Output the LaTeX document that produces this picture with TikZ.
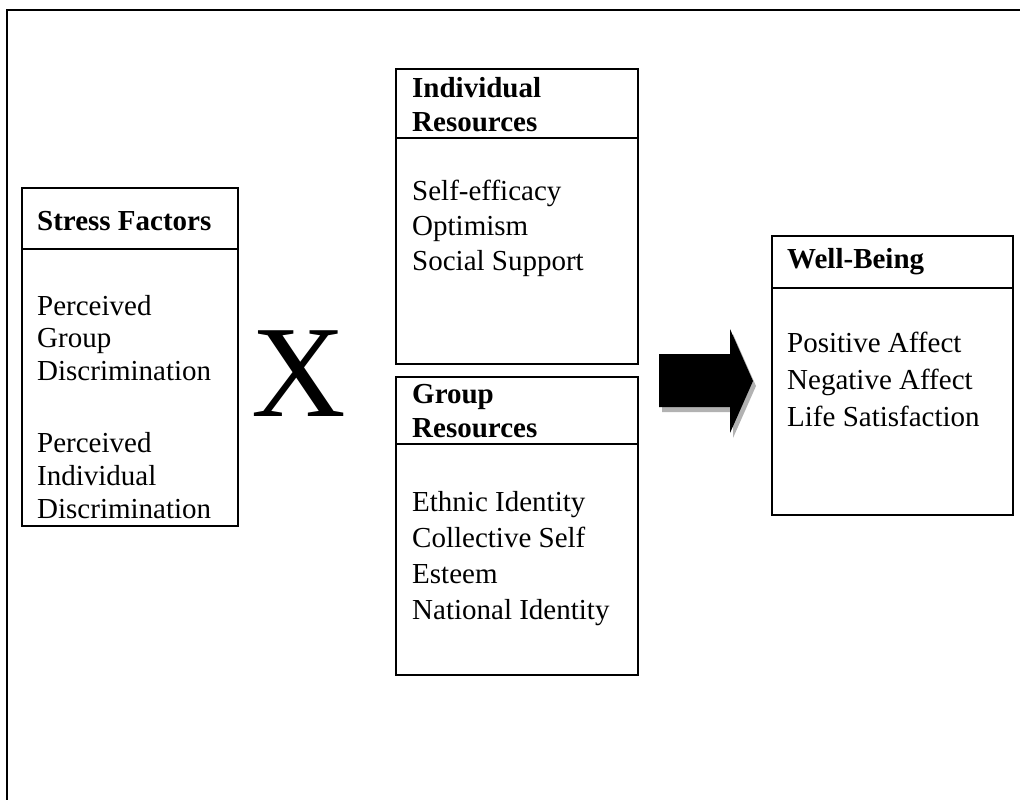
\documentclass[tikz,border=0pt]{standalone}
\usepackage{fontspec}
\setmainfont{Liberation Serif}
\begin{document}
\begin{tikzpicture}[x=1pt,y=-1pt,
  boxline/.style={draw=black, line width=2pt},
  boxnode/.style={boxline, anchor=north west, inner sep=0pt, outer sep=0pt},
  frameline/.style={draw=black, line width=2.5pt},
  bodytxt/.style={anchor=base west, inner sep=0pt, font=\fontsize{29}{34}\selectfont},
  headtxt/.style={anchor=base west, inner sep=0pt, font=\fontsize{29}{34}\selectfont\bfseries},
  bigx/.style={anchor=base, inner sep=0pt, font=\fontsize{131}{131}\selectfont},
  arrowfill/.style={fill=black},
  arrowshadow/.style={fill=black!30}]
\useasboundingbox (0,0) rectangle (1020,800);

% outer frame (left and top edges)
\coordinate (fbl) at (7,800);
\coordinate (ftl) at (7,10);
\coordinate (ftr) at (1020,10);
\draw[frameline] (fbl) -- (ftl) -- (ftr);

% Stress Factors box
\node[boxnode, minimum width=216pt, minimum height=338pt] (stress) at (22,188) {};
\coordinate (sdl) at (22,249);
\coordinate (sdr) at (238,249);
\draw[boxline] (sdl) -- (sdr);
\node[headtxt] (sh) at (37,230) {Stress Factors};
\node[bodytxt] (s1) at (37,315) {Perceived};
\node[bodytxt] (s2) at (37,347) {Group};
\node[bodytxt] (s3) at (37,380) {Discrimination};
\node[bodytxt] (s4) at (37,452) {Perceived};
\node[bodytxt] (s5) at (37,485) {Individual};
\node[bodytxt] (s6) at (37,518) {Discrimination};

% X
\node[bigx] (times) at (299,416) {X};

% Individual Resources box
\node[boxnode, minimum width=242pt, minimum height=295pt] (indiv) at (396,69) {};
\coordinate (idl) at (396,138);
\coordinate (idr) at (638,138);
\draw[boxline] (idl) -- (idr);
\node[headtxt] (ih1) at (412,97) {Individual};
\node[headtxt] (ih2) at (412,131) {Resources};
\node[bodytxt] (i1) at (412,200) {Self-efficacy};
\node[bodytxt] (i2) at (412,235) {Optimism};
\node[bodytxt] (i3) at (412,270) {Social Support};

% Group Resources box
\node[boxnode, minimum width=242pt, minimum height=298pt] (group) at (396,377) {};
\coordinate (gdl) at (396,444);
\coordinate (gdr) at (638,444);
\draw[boxline] (gdl) -- (gdr);
\node[headtxt] (gh1) at (412,403) {Group};
\node[headtxt] (gh2) at (412,437) {Resources};
\node[bodytxt] (g1) at (412,511) {Ethnic Identity};
\node[bodytxt] (g2) at (412,547) {Collective Self};
\node[bodytxt] (g3) at (412,583) {Esteem};
\node[bodytxt] (g4) at (412,619) {National Identity};

% block arrow with shadow
\begin{scope}[shift={(3,5)}]
\fill[arrowshadow] (659,354) -- (730,354) -- (730,329) -- (753,381) -- (730,433) -- (730,407) -- (659,407) -- cycle;
\end{scope}
\fill[arrowfill] (659,354) -- (730,354) -- (730,329) -- (753,381) -- (730,433) -- (730,407) -- (659,407) -- cycle;

% Well-Being box
\node[boxnode, minimum width=241pt, minimum height=279pt] (well) at (772,236) {};
\coordinate (wdl) at (772,288);
\coordinate (wdr) at (1013,288);
\draw[boxline] (wdl) -- (wdr);
\node[headtxt] (wh) at (787,268) {Well-Being};
\node[bodytxt] (w1) at (787,352) {Positive Affect};
\node[bodytxt] (w2) at (787,389) {Negative Affect};
\node[bodytxt] (w3) at (787,426) {Life Satisfaction};
\end{tikzpicture}
\end{document}
